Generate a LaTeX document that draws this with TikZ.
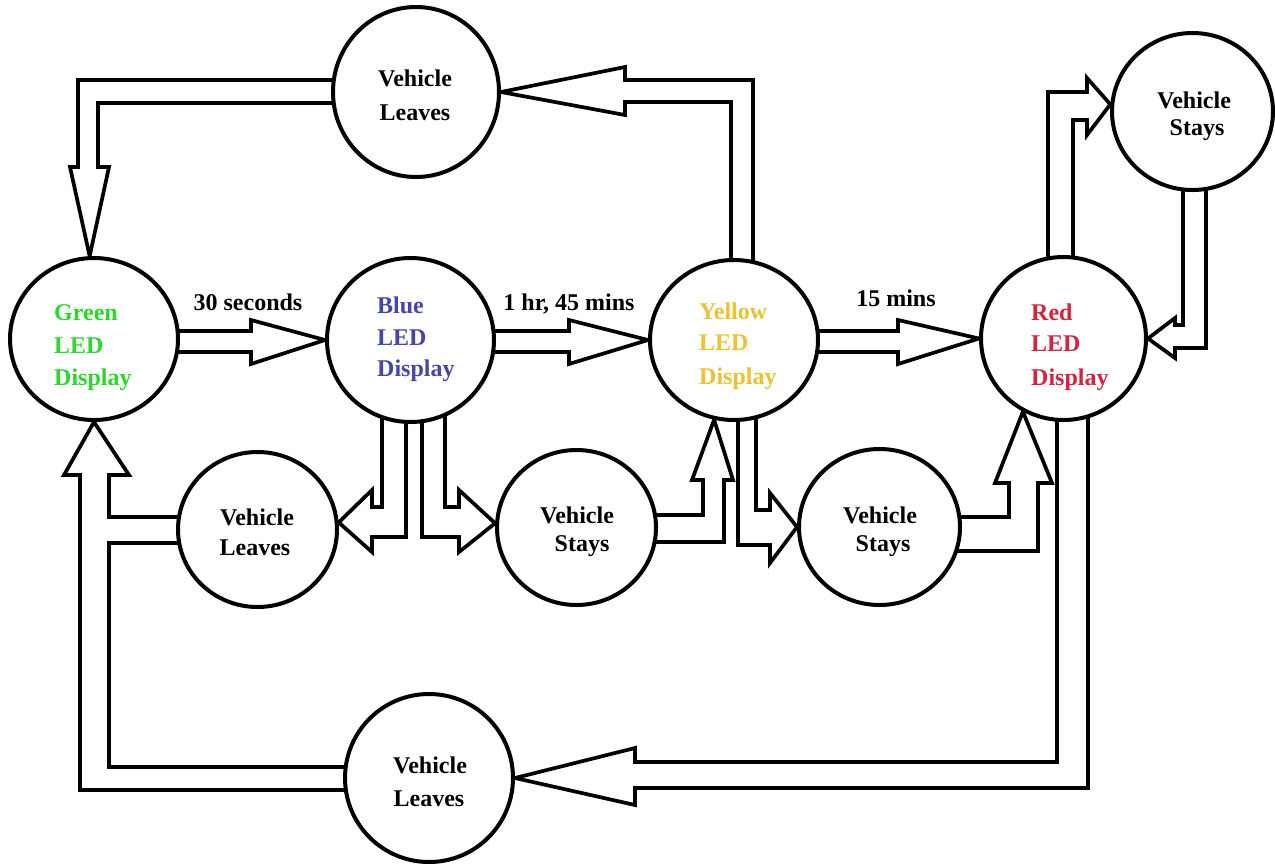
\documentclass[tikz,border=0pt]{standalone}
\usepackage{fontspec}
\setmainfont{Liberation Serif}
\usetikzlibrary{shapes.geometric,backgrounds}
\definecolor{ledgreen}{RGB}{45,215,45}
\definecolor{ledblue}{RGB}{70,70,170}
\definecolor{ledyellow}{RGB}{235,195,50}
\definecolor{ledred}{RGB}{215,35,65}
\begin{document}
\begin{tikzpicture}[x=1pt,y=-1pt,
  circ/.style={ellipse,draw=black,line width=4pt,fill=white,inner sep=0pt},
  arr/.style={draw=black,line width=3.7pt,miter limit=10},
  txt/.style={font=\bfseries\fontsize{24}{28}\selectfont,inner sep=0pt,anchor=base},
  ledtxt/.style={txt,anchor=base west}]
\useasboundingbox (0,0) rectangle (1275,863);
% circles
\node[circ,minimum width=168pt,minimum height=162pt] (ng) at (94,339) {};
\node[circ,minimum width=167pt,minimum height=164pt] (nb) at (410.5,340) {};
\node[circ,minimum width=168pt,minimum height=160pt] (ny) at (734,340) {};
\node[circ,minimum width=165pt,minimum height=163pt] (nr) at (1063.5,338.5) {};
\node[circ,minimum width=166pt,minimum height=170pt] (tvl) at (416,92) {};
\node[circ,minimum width=161pt,minimum height=157pt] (trvs) at (1192.5,111.5) {};
\node[circ,minimum width=159pt,minimum height=155pt] (lvl) at (257.5,529.5) {};
\node[circ,minimum width=159pt,minimum height=155pt] (vs1) at (576.5,527.5) {};
\node[circ,minimum width=161pt,minimum height=156pt] (vs2) at (879.5,527) {};
\node[circ,minimum width=168pt,minimum height=168pt] (bvl) at (429,778) {};
% connectors (block arrows) behind the circles
\begin{pgfonlayer}{background}
\fill[white] (0,0) rectangle (1275,863);
\draw[arr] (tvl.center |- 0,80) -- (78,80) -- (78,167) -- (70,167) -- (ng.93) -- (109,167) -- (98,167) -- (98,103) -- (tvl.center |- 0,103);
\draw[arr] (731,0 |- ny.center) -- (731,102) -- (625,102) -- (625,115) -- (tvl.east) -- (625,67) -- (625,80) -- (753,80) -- (753,0 |- ny.center);
\draw[arr] (ng.center |- 0,331) -- (251,331) -- (251,320) -- (nb.west) -- (251,364) -- (251,352) -- (ng.center |- 0,352);
\draw[arr] (nb.center |- 0,331) -- (569,331) -- (569,320) -- (ny.west) -- (569,364) -- (569,352) -- (nb.center |- 0,352);
\draw[arr] (ny.center |- 0,331) -- (898,331) -- (898,320) -- (nr.west) -- (898,364) -- (898,352) -- (ny.center |- 0,352);
\draw[arr] (1048,0 |- nr.center) -- (1048,92) -- (1087,92) -- (1087,78) -- (trvs.175) -- (1087,135) -- (1087,120) -- (1073,120) -- (1073,0 |- nr.center);
\draw[arr] (1183,0 |- trvs.center) -- (1183,325) -- (1175,325) -- (1175,318) -- (nr.east) -- (1175,358) -- (1175,348) -- (1206,348) -- (1206,0 |- trvs.center);
\draw[arr] (382,0 |- nb.center) -- (382,507) -- (372,507) -- (372,490) -- (lvl.5) -- (372,552) -- (372,537) -- (406,537) -- (406,0 |- nb.center);
\draw[arr] (445,0 |- nb.center) -- (445,507) -- (459,507) -- (459,490) -- (vs1.177) -- (459,552) -- (459,537) -- (422,537) -- (422,0 |- nb.center);
\draw[arr] (vs1.center |- 0,515) -- (703,515) -- (703,480) -- (692,480) -- (ny.256) -- (733,480) -- (724,480) -- (724,542) -- (vs1.center |- 0,542);
\draw[arr] (738,0 |- ny.center) -- (738,545) -- (770,545) -- (770,563) -- (vs2.west) -- (770,493) -- (770,510) -- (756,510) -- (756,0 |- ny.center);
\draw[arr] (vs2.center |- 0,517) -- (1009,517) -- (1009,483) -- (995,483) -- (nr.241) -- (1052,483) -- (1038,483) -- (1038,551) -- (vs2.center |- 0,551);
\draw[arr] (1057,0 |- nr.center) -- (1057,762) -- (635,762) -- (635,748) -- (bvl.east) -- (635,805) -- (635,788) -- (1088,788) -- (1088,0 |- nr.center);
\draw[arr] (bvl.center |- 0,790) -- (80,790) -- (80,475) -- (64,475) -- (ng.south) -- (129,475) -- (109,475) -- (109,517) -- (lvl.center |- 0,517);
\draw[arr] (lvl.center |- 0,543) -- (109,543) -- (109,767) -- (bvl.center |- 0,767);
\end{pgfonlayer}
% texts
\node[ledtxt,text=ledgreen] (ngt1) at (54,320) {Green};
\node[ledtxt,text=ledgreen] (ngt2) at (54,353) {LED};
\node[ledtxt,text=ledgreen] (ngt3) at (54,385) {Display};
\node[ledtxt,text=ledblue] (nbt1) at (377,313) {Blue};
\node[ledtxt,text=ledblue] (nbt2) at (377,345) {LED};
\node[ledtxt,text=ledblue] (nbt3) at (377,376) {Display};
\node[ledtxt,text=ledyellow] (nyt1) at (699,319) {Yellow};
\node[ledtxt,text=ledyellow] (nyt2) at (699,350) {LED};
\node[ledtxt,text=ledyellow] (nyt3) at (699,384) {Display};
\node[ledtxt,text=ledred] (nrt1) at (1031,320) {Red};
\node[ledtxt,text=ledred] (nrt2) at (1031,351) {LED};
\node[ledtxt,text=ledred] (nrt3) at (1031,385) {Display};
\node[txt] (tvlt1) at (415,86) {Vehicle};
\node[txt] (tvlt2) at (415,120) {Leaves};
\node[txt] (trvst1) at (1194,108) {Vehicle};
\node[txt] (trvst2) at (1197,135) {Stays};
\node[txt] (lvlt1) at (257,525) {Vehicle};
\node[txt] (lvlt2) at (255,555) {Leaves};
\node[txt] (vs1t1) at (577,523) {Vehicle};
\node[txt] (vs1t2) at (582,551) {Stays};
\node[txt] (vs2t1) at (880,523) {Vehicle};
\node[txt] (vs2t2) at (883,551) {Stays};
\node[txt] (bvlt1) at (430,773) {Vehicle};
\node[txt] (bvlt2) at (429,806) {Leaves};
\node[txt] (l1) at (248,310) {30 seconds};
\node[txt] (l2) at (569,310) {1 hr, 45 mins};
\node[txt] (l3) at (896,306) {15 mins};
\end{tikzpicture}
\end{document}
